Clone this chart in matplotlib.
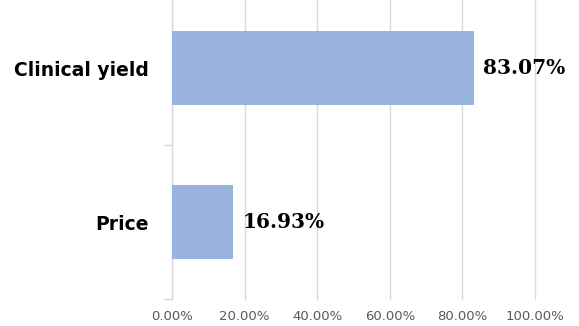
import matplotlib
matplotlib.use("Agg")
import matplotlib.pyplot as plt
from matplotlib.ticker import FuncFormatter

categories = ["Price", "Clinical yield"]
values = [16.93, 83.07]
xticks = [0, 20, 40, 60, 80, 100]

W, H = 579, 326
fig = plt.figure(figsize=(W / 100, H / 100), dpi=100)
# plot area: x 172..535 px, y -9..299 px (top is cut off in the reference)
ax = fig.add_axes([172 / W, 1 - 299 / H, (535 - 172) / W, 308 / H])

ax.barh(range(len(categories)), values, height=0.48, color="#98B3E0", zorder=3)
ax.set_xlim(0, 100)
ax.set_ylim(-0.5, 1.5)
ax.set_xticks(xticks)
ax.xaxis.set_major_formatter(FuncFormatter(lambda v, p: f"{v:.2f}%"))
ax.tick_params(axis="x", length=0, pad=8, labelsize=9.5, labelcolor="#595959")
ax.grid(axis="x", color="#D9D9D9", linewidth=1, zorder=0)
for gl in ax.get_xgridlines():
    gl.set_clip_on(False)

ax.set_yticks([0, 1])
ax.set_yticklabels(categories, fontsize=13.5, fontweight="bold", color="black")
ax.set_yticks([-0.5, 0.5], minor=True)
ax.tick_params(axis="y", which="major", length=0, pad=17)
ax.tick_params(axis="y", which="minor", length=6, color="#D9D9D9", width=1)

for s in ["top", "right", "bottom"]:
    ax.spines[s].set_visible(False)
ax.spines["left"].set_color("#D9D9D9")

for i, v in enumerate(values):
    ax.text(v + 2.6, i, f"{v:.2f}%", va="center", ha="left", fontsize=14.5,
            fontweight="bold", family="DejaVu Serif")

fig.savefig("out.png", dpi=100)
